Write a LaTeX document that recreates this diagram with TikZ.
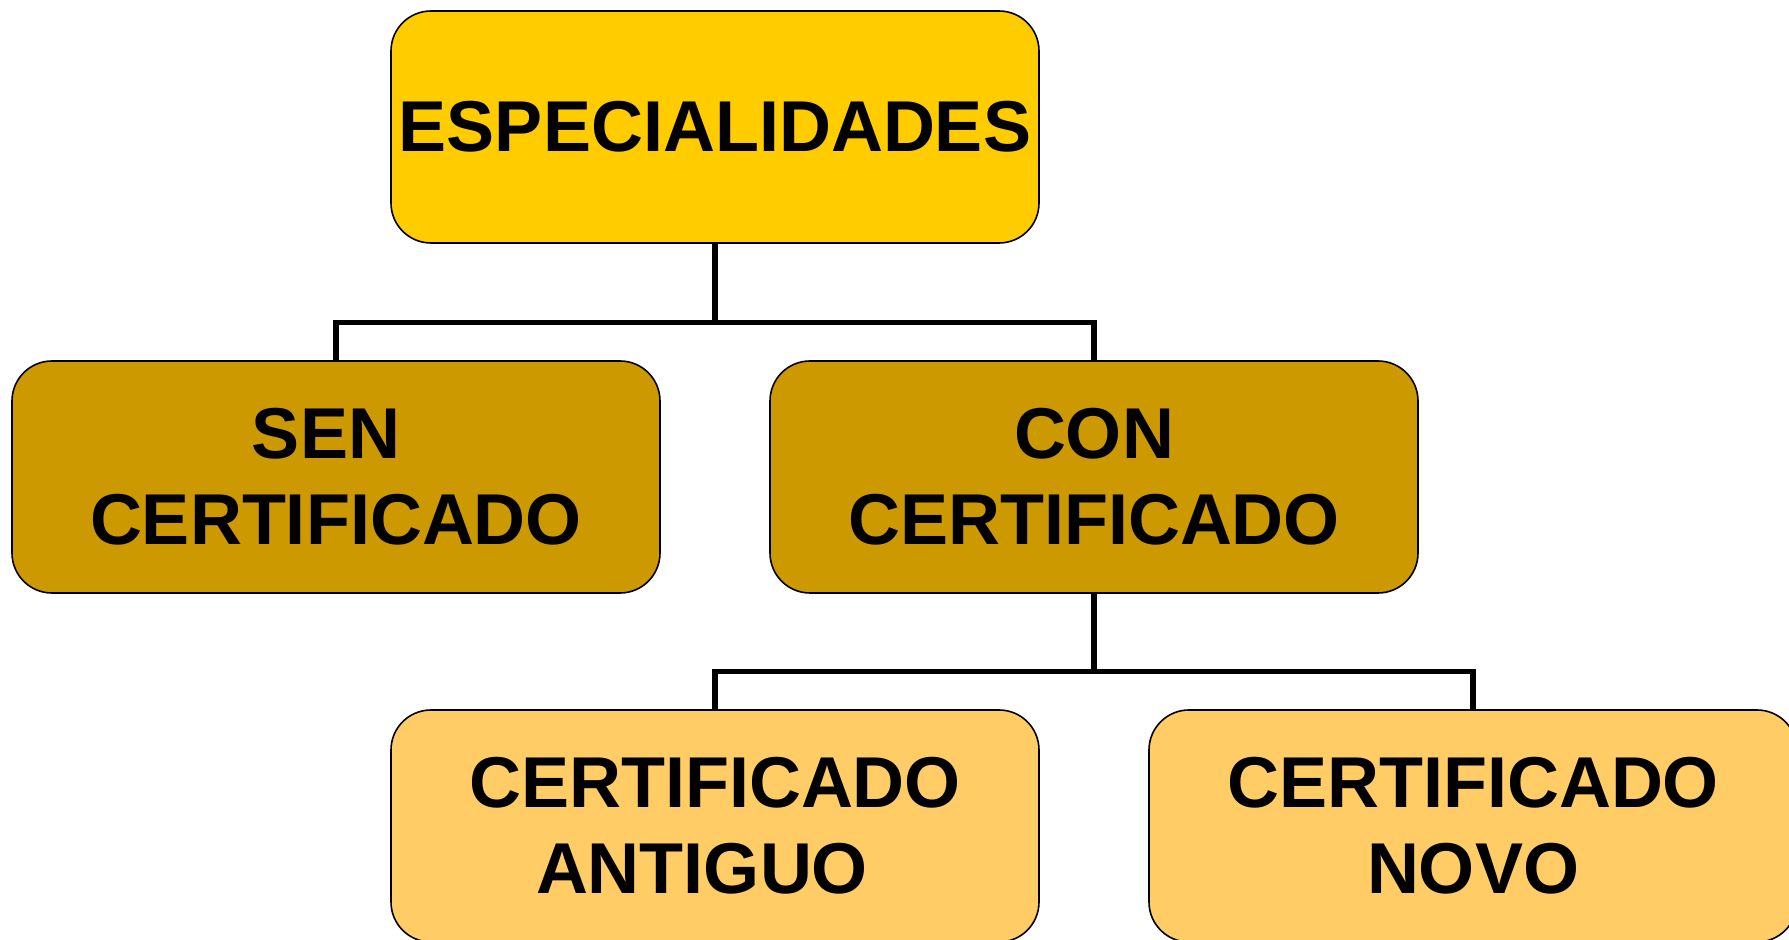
\documentclass[tikz,border=0pt]{standalone}
\usepackage{fontspec}
\setmainfont{Liberation Sans}
\definecolor{topyellow}{HTML}{FFCC00}
\definecolor{midgold}{HTML}{CC9900}
\definecolor{lowyellow}{HTML}{FFCC66}
\newcommand{\boxfont}{\fontsize{36}{43}\selectfont\bfseries}

\begin{document}
\begin{tikzpicture}[x=0.5pt,y=-0.5pt,
  box/.style={draw=black, line width=0.8pt, rounded corners=20pt,
    minimum width=324pt, minimum height=116pt, inner sep=0pt,
    align=center, font=\boxfont},
  link/.style={line width=2.6pt}]

 \useasboundingbox (0,0) rectangle (1789,940);
 \clip (0,0) rectangle (1789,940);

   \node[box, fill=topyellow] (espec) at (715,127) {\raisebox{-1.5pt}{ESPECIALIDADES}};
   \node[box, fill=midgold] (sen) at (336,477) {SEN\hspace*{10pt}\\CERTIFICADO};
   \node[box, fill=midgold] (con) at (1094,477) {CON\\CERTIFICADO};
   \node[box, fill=lowyellow] (antigo) at (715,826) {CERTIFICADO\\ANTIGUO\hspace*{13pt}};
   \node[box, fill=lowyellow] (novo) at (1473,826) {CERTIFICADO\\NOVO};

   \draw[link] (espec.south) -- ++(0,79) coordinate (split1);
   \draw[link] (sen.north) |- (split1) -| (con.north);
   \draw[link] (con.south) -- ++(0,78) coordinate (split2);
   \draw[link] (antigo.north) |- (split2) -| (novo.north);

\end{tikzpicture}
\end{document}
